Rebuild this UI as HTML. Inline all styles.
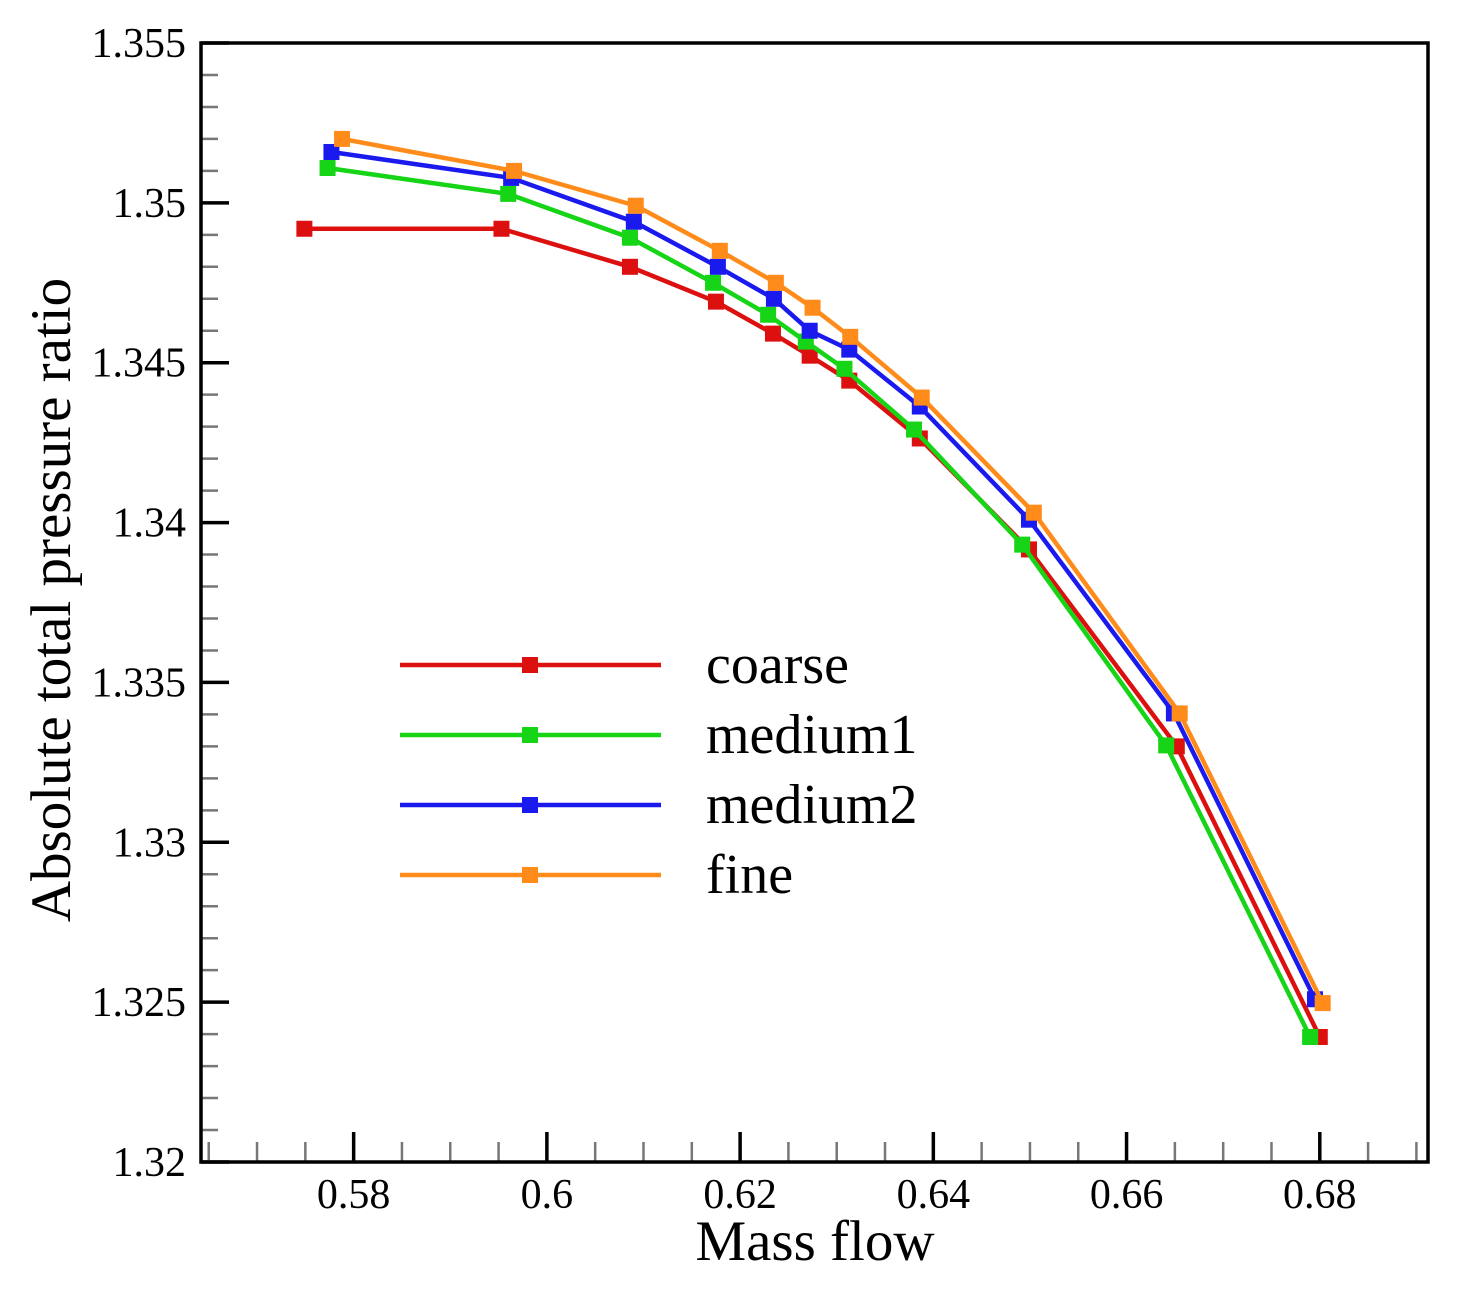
<!DOCTYPE html>
<html><head><meta charset="utf-8"><style>
html,body{margin:0;padding:0;background:#fff;}
svg text{font-family:"Liberation Serif",serif;fill:#000;}
</style></head><body>
<svg id="chart" width="1462" height="1295" xmlns="http://www.w3.org/2000/svg">
<g id="ticks"></g>
<g id="series"></g>
<rect x="201" y="43" width="1227" height="1119" fill="none" stroke="#000" stroke-width="3.5"/>
<text x="815" y="1260" font-size="57" text-anchor="middle">Mass flow</text>
<text transform="translate(70,600) rotate(-90)" font-size="57" text-anchor="middle">Absolute total pressure ratio</text>
<g id="legend"></g>
</svg>
<script>
const seriesNames=["coarse","medium1","medium2","fine"];
const seriesColors=["#dd1010","#16d416","#1a1aee","#ff8c1a"];
const coarseX=[0.5749,0.5953,0.6086,0.6175,0.6234,0.6272,0.6313,0.6386,0.6499,0.6652,0.6800];
const coarseY=[1.34919,1.34919,1.3480,1.34691,1.34591,1.34522,1.34444,1.34263,1.33916,1.33300,1.32391];
const medium1X=[0.5773,0.5960,0.6086,0.6172,0.6229,0.6268,0.6308,0.6380,0.6492,0.6641,0.6790];
const medium1Y=[1.35109,1.35028,1.34891,1.3475,1.3465,1.34566,1.34481,1.34291,1.33931,1.33303,1.32391];
const medium2X=[0.5777,0.5963,0.6090,0.6177,0.6235,0.6272,0.6313,0.6386,0.6499,0.6649,0.6795];
const medium2Y=[1.35159,1.35078,1.34941,1.348,1.347,1.346,1.34541,1.34363,1.34009,1.33403,1.32509];
const fineX=[0.5788,0.5966,0.6092,0.6179,0.6237,0.6275,0.6314,0.6388,0.6504,0.6655,0.6803];
const fineY=[1.352,1.351,1.34991,1.3485,1.3475,1.34672,1.34581,1.34391,1.34031,1.33403,1.32497];
const xTickLabels=["0.58","0.6","0.62","0.64","0.66","0.68"];
const yTickLabels=["1.32","1.325","1.33","1.335","1.34","1.345","1.35","1.355"];

const NS="http://www.w3.org/2000/svg";
const L=201,R=1428,T=43,B=1162;
const xMin=0.5642,xMax=0.6912,yMin=1.32,yMax=1.355;
function sx(v){return L+(v-xMin)/(xMax-xMin)*(R-L);}
function sy(v){return B-(v-yMin)/(yMax-yMin)*(B-T);}
function mk(tag,attrs,parent){const e=document.createElementNS(NS,tag);for(const k in attrs)e.setAttribute(k,attrs[k]);parent.appendChild(e);return e;}

const tg=document.getElementById('ticks');
for(let i=0;i<=35;i++){
  const v=yMin+i*0.001,y=sy(v),major=i%5===0;
  const t=mk('line',{x1:L,x2:L+(major?28:17),y1:y,y2:y,stroke:major?'#000':'#777','stroke-width':major?3.5:2.5},tg);
  
  
}
yTickLabels.forEach(s=>{
  const t=mk('text',{x:186,y:sy(parseFloat(s))+14,'font-size':42,'text-anchor':'end'},tg);
  t.textContent=s;
  
  
});
for(let v=0.565;v<0.691;v+=0.005){
  const x=sx(v),major=Math.abs(Math.round(v*100)-v*100)<1e-6&&Math.round(v*100)%2===0;
  const t=mk('line',{x1:x,x2:x,y1:B,y2:B-(major?30:20),stroke:major?'#000':'#777','stroke-width':major?3.5:2.5},tg);
  
  
}
xTickLabels.forEach(s=>{
  const t=mk('text',{x:sx(parseFloat(s)),y:1208,'font-size':42,'text-anchor':'middle'},tg);
  t.textContent=s;
  
  
});

const allX=[coarseX,medium1X,medium2X,fineX],allY=[coarseY,medium1Y,medium2Y,fineY];
const sg=document.getElementById('series');
allX.forEach((xs,si)=>{
  const g=mk('g',{},sg);
  
  
  const pts=xs.map((x,i)=>sx(x)+','+sy(allY[si][i])).join(' ');
  const pl=mk('polyline',{points:pts,fill:'none',stroke:seriesColors[si],'stroke-width':4.5},g);
  
  
  xs.forEach((x,i)=>{
    const r=mk('rect',{x:sx(x)-8,y:sy(allY[si][i])-8,width:16,height:16,fill:seriesColors[si]},g);
    
    
  });
});

const lg=document.getElementById('legend');
seriesNames.forEach((n,i)=>{
  const y=665+i*70;
  const g=mk('g',{},lg);
  
  
  mk('line',{x1:400,x2:661,y1:y,y2:y,stroke:seriesColors[i],'stroke-width':4.5},g);
  mk('rect',{x:522,y:y-8,width:16,height:16,fill:seriesColors[i]},g);
  const t=mk('text',{x:706,y:y+18,'font-size':56},g);
  t.textContent=n;
});
</script>
</body></html>
